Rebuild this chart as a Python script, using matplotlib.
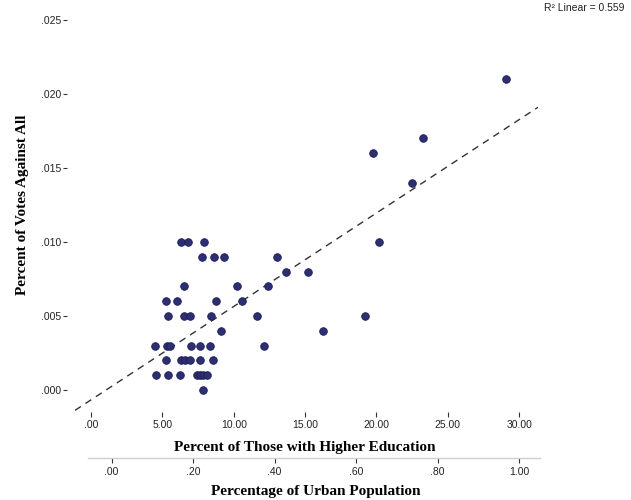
import matplotlib
matplotlib.use("Agg")
import matplotlib.pyplot as plt
import matplotlib.transforms as mtransforms

# ----------------------------
# Data
# ----------------------------
higher_edu = [
    29.06, 23.29, 19.78, 22.47,
    6.31, 6.82, 7.94, 20.20,
    7.80, 8.62, 9.32, 13.01,
    13.64, 15.19,
    6.54, 10.21, 12.42,
    5.23, 6.05, 8.74, 10.56,
    5.37, 6.54, 6.94, 8.41, 11.65, 19.20,
    9.11, 16.24,
    4.49, 5.30, 5.54, 7.01, 7.64, 8.34, 12.12,
    5.23, 6.29, 6.60, 6.94, 7.64, 8.57,
    4.56, 5.42, 6.24, 7.43, 7.64, 7.85, 8.13,
    7.87,
]
votes_against = [
    0.021, 0.017, 0.016, 0.014,
    0.010, 0.010, 0.010, 0.010,
    0.009, 0.009, 0.009, 0.009,
    0.008, 0.008,
    0.007, 0.007, 0.007,
    0.006, 0.006, 0.006, 0.006,
    0.005, 0.005, 0.005, 0.005, 0.005, 0.005,
    0.004, 0.004,
    0.003, 0.003, 0.003, 0.003, 0.003, 0.003, 0.003,
    0.002, 0.002, 0.002, 0.002, 0.002, 0.002,
    0.001, 0.001, 0.001, 0.001, 0.001, 0.001, 0.001,
    0.000,
]

# fit line as printed by the chart
fit_slope = 0.000631
fit_intercept = -0.000668
r2_text = "R\u00b2 Linear = 0.559"

x_ticks = [0, 5, 10, 15, 20, 25, 30]
y_ticks = [0.000, 0.005, 0.010, 0.015, 0.020, 0.025]
urban_ticks = [0.0, 0.2, 0.4, 0.6, 0.8, 1.0]

x_label = "Percent of Those with Higher Education"
y_label = "Percent of Votes Against All"
urban_label = "Percentage of Urban Population"

# ----------------------------
# Figure
# ----------------------------
W, H = 631, 500
fig = plt.figure(figsize=(W / 100, H / 100), dpi=100)

tick_font = {"family": "Liberation Sans", "size": 7.5, "color": "#222222"}
title_font = {"family": "Liberation Serif", "size": 11, "weight": "bold", "color": "black"}

xlim = (-1.12, 31.32)
ylim = (-0.001486, 0.0258)
# pixel box of the plot area
left_px, right_px, top_px, bottom_px = 75, 538, 8, 412
ax = fig.add_axes([left_px / W, 1 - bottom_px / H,
                   (right_px - left_px) / W, (bottom_px - top_px) / H])
ax.set_xlim(*xlim)
ax.set_ylim(*ylim)
ax.patch.set_alpha(0)
for s in ["top", "right", "bottom", "left"]:
    ax.spines[s].set_visible(False)
ax.spines["left"].set_position(("outward", 5.8))

ax.scatter(higher_edu, votes_against, s=30, facecolor="#2d2f72",
           edgecolor="#1c1c52", linewidth=0.6, zorder=3, clip_on=False)

ax.axline((0, fit_intercept), slope=fit_slope, color="#333333",
          linewidth=1.0, dashes=(5, 4), zorder=2)

ax.set_xticks(x_ticks)
ax.set_xticklabels([f"{v:.2f}".lstrip("0") if v == 0 else f"{v:.2f}" for v in x_ticks],
                   fontdict=tick_font)
ax.set_yticks(y_ticks)
ax.set_yticklabels([f"{v:.3f}".lstrip("0") for v in y_ticks], fontdict=tick_font)
ax.tick_params(axis="x", direction="out", length=3.6, width=0.8, color="#333333", pad=2)
ax.tick_params(axis="y", direction="out", length=2.9, width=0.8, color="#333333", pad=1.5)

# axis titles centred on the tick span, like SPSS does
blend_x = mtransforms.blended_transform_factory(ax.transData, fig.transFigure)
ax.set_xlabel(x_label, fontdict=title_font, va="center")
ax.xaxis.set_label_coords((x_ticks[0] + x_ticks[-1]) / 2, 1 - 447 / H, transform=blend_x)
blend_y = mtransforms.blended_transform_factory(fig.transFigure, ax.transData)
ax.set_ylabel(y_label, fontdict=title_font, va="center")
ax.yaxis.set_label_coords(23 / W, (y_ticks[0] + y_ticks[-1]) / 2, transform=blend_y)

# second x axis for urban population
ax2 = fig.add_axes([88 / W, 1 - 457.5 / H, (540 - 88) / W, 0.0001])
ax2.set_xlim(-0.058, 1.051)
ax2.patch.set_alpha(0)
for s in ["top", "right", "left"]:
    ax2.spines[s].set_visible(False)
ax2.spines["bottom"].set_color("#cfcfcf")
ax2.spines["bottom"].set_linewidth(1.0)
ax2.set_yticks([])
ax2.set_xticks(urban_ticks)
ax2.set_xticklabels([f"{v:.2f}".lstrip("0") if v < 1 else f"{v:.2f}" for v in urban_ticks],
                    fontdict=tick_font)
ax2.tick_params(axis="x", direction="out", length=3.6, width=0.8, color="#333333", pad=3)
blend_x2 = mtransforms.blended_transform_factory(ax2.transData, fig.transFigure)
ax2.set_xlabel(urban_label, fontdict=title_font, va="center")
ax2.xaxis.set_label_coords((urban_ticks[0] + urban_ticks[-1]) / 2, 1 - 492 / H, transform=blend_x2)

fig.text(625 / W, 1 - 8 / H, r2_text, ha="right", va="center",
         fontdict={"family": "Liberation Sans", "size": 7.5, "color": "#222222"})

fig.savefig("out.png", dpi=100)
